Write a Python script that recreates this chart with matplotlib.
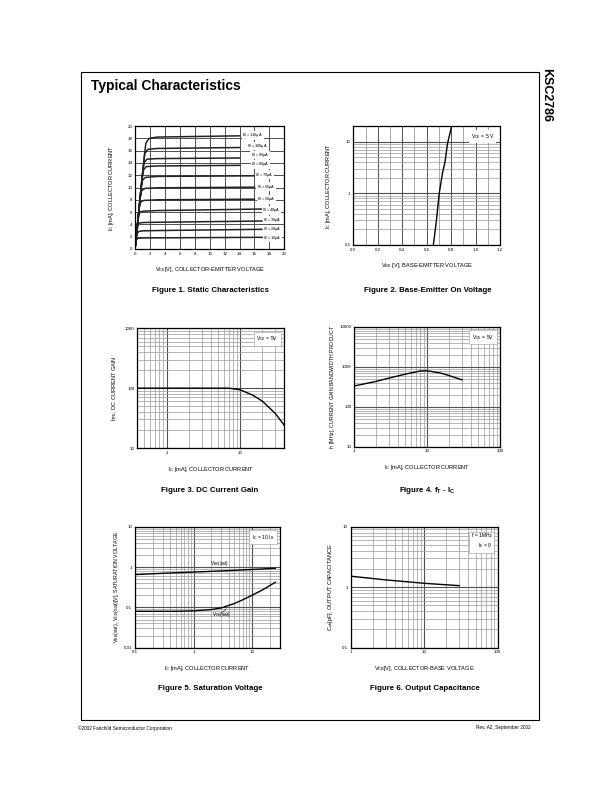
import numpy as np
import matplotlib
matplotlib.use("Agg")
import matplotlib.pyplot as plt
from matplotlib.patches import Rectangle
from matplotlib.ticker import FixedLocator, NullFormatter, FixedFormatter

plt.rcParams["font.family"] = ["Liberation Sans", "DejaVu Sans"]
plt.rcParams["mathtext.default"] = "regular"

W, H = 612, 792

# ---- Figure 1: static characteristics (Ib in uA -> (Vce, Ic)) ----
IB = [10, 20, 30, 40, 50, 60, 70, 80, 90, 100, 110]
F1_V = {
    10: [0, 0.1, 0.2, 0.4, 1.0, 17.0],
    20: [0, 0.15, 0.3, 0.5, 1.0, 3, 17],
    30: [0, 0.2, 0.4, 0.6, 1.0, 3, 17],
    40: [0, 0.3, 0.5, 0.7, 1.1, 3, 17],
    50: [0, 0.35, 0.6, 0.8, 1.2, 3, 16],
    60: [0, 0.4, 0.7, 0.9, 1.3, 3, 16],
    70: [0, 0.5, 0.8, 1.0, 1.4, 3, 16],
    80: [0, 0.55, 0.9, 1.1, 1.5, 3, 14],
    90: [0, 0.6, 1.0, 1.2, 1.6, 3, 14],
    100: [0, 0.65, 1.1, 1.3, 1.7, 3, 14],
    110: [0, 0.7, 1.2, 1.45, 1.9, 3, 14],
}
F1_I = {
    10: [0, 1.0, 1.5, 1.75, 1.8, 1.9],
    20: [0, 1.6, 2.5, 2.85, 2.95, 3.0, 3.2],
    30: [0, 2.4, 3.9, 4.2, 4.3, 4.35, 4.55],
    40: [0, 3.4, 5.5, 6.0, 6.15, 6.25, 6.5],
    50: [0, 4.2, 7.0, 7.7, 7.9, 8.0, 8.1],
    60: [0, 4.8, 8.5, 9.5, 9.85, 9.95, 10.05],
    70: [0, 6.0, 9.8, 11.2, 11.65, 11.8, 11.9],
    80: [0, 6.6, 10.9, 12.8, 13.4, 13.5, 13.6],
    90: [0, 7.2, 12.1, 14.0, 14.6, 14.7, 14.8],
    100: [0, 7.8, 13.3, 15.5, 16.2, 16.35, 16.5],
    110: [0, 8.4, 14.5, 17.2, 18.0, 18.2, 18.4],
}
F1_LABEL_XY = {
    10: (17.2, 1.85), 20: (17.2, 3.25), 30: (17.2, 4.7), 40: (17.0, 6.3),
    50: (16.4, 8.1), 60: (16.3, 10.1), 70: (16.1, 12.1), 80: (15.6, 13.8),
    90: (15.5, 15.3), 100: (15.0, 16.75), 110: (14.4, 18.5),
}

# ---- Figure 2: base-emitter on voltage ----
F2_VBE = [0.655, 0.68, 0.703, 0.73, 0.75, 0.77, 0.805]
F2_IC = [0.1, 0.3, 1.0, 2.5, 4.0, 9.0, 20.0]

# ---- Figure 3: DC current gain ----
F3_IC = [0.4, 1, 3, 7, 10, 15, 20, 30, 40]
F3_HFE = [100, 100, 100, 100, 94, 76, 61, 38, 24]

# ---- Figure 4: fT - Ic ----
F4_IC = [1, 2, 3, 5, 8, 10, 15, 20, 30]
F4_FT = [330, 430, 520, 650, 780, 790, 700, 600, 470]

# ---- Figure 5: saturation voltage ----
F5_IC_BE = [0.1, 0.3, 1, 3, 10, 25]
F5_VBE = [0.65, 0.7, 0.75, 0.8, 0.87, 0.93]
F5_IC_CE = [0.1, 0.5, 1, 2, 3, 5, 7, 10, 15, 25]
F5_VCE = [0.08, 0.08, 0.082, 0.088, 0.097, 0.125, 0.155, 0.2, 0.27, 0.42]

# ---- Figure 6: output capacitance ----
F6_VCB = [1, 3, 10, 30]
F6_COB = [1.52, 1.32, 1.16, 1.06]

MAJ = "#505050"
MIN = "#9a9a9a"
TICK_FS = 3.2
LAB_FS = 4.1
CAP_FS = 5.7


def axes_px(fig, left, top, right, bottom):
    return fig.add_axes([left / W, 1 - bottom / H, (right - left) / W, (bottom - top) / H])


def style(ax):
    for s in ax.spines.values():
        s.set_linewidth(0.9)
        s.set_color("black")
    ax.tick_params(which="both", length=0, labelsize=TICK_FS, pad=2)
    ax.set_axisbelow(True)


def log_grid(ax, axis, lo, hi, labels):
    decs = np.arange(np.floor(np.log10(lo)), np.ceil(np.log10(hi)) + 1)
    major = [10 ** d for d in decs if lo <= 10 ** d <= hi]
    minor = [m * 10 ** d for d in decs for m in range(2, 10) if lo < m * 10 ** d < hi]
    a = ax.xaxis if axis == "x" else ax.yaxis
    a.set_major_locator(FixedLocator(major))
    a.set_major_formatter(FixedFormatter(labels))
    a.set_minor_locator(FixedLocator(minor))
    a.set_minor_formatter(NullFormatter())
    ax.grid(True, axis=axis, which="major", color=MAJ, lw=0.8)
    ax.grid(True, axis=axis, which="minor", color=MIN, lw=0.5)


def note(ax, txt):
    ax.text(0.96, 0.95, txt, transform=ax.transAxes, ha="right", va="top",
            fontsize=3.6, linespacing=1.6,
            bbox=dict(boxstyle="square,pad=0.5", fc="white", ec="#999999", lw=0.4))


def caption(x, y, txt):
    fig.text(x / W, 1 - y / H, txt, ha="center", va="center", fontsize=CAP_FS,
             fontweight="bold")


fig = plt.figure(figsize=(W / 100, H / 100), dpi=100)

# page frame and header
fig.add_artist(Rectangle((81 / W, 1 - 720 / H), (539 - 81) / W, (720 - 72) / H,
                         transform=fig.transFigure, fill=False, lw=0.8, ec="black"))
fig.text(91 / W, 1 - 86 / H, "Typical Characteristics", fontsize=9.9,
         fontweight="bold", va="center", ha="left")
fig.text(546 / W, 1 - 68 / H, "KSC2786", fontsize=9, fontweight="bold",
         rotation=-90, va="top", ha="center")
fig.text(78 / W, 1 - 728 / H, "\u00a92002 Fairchild Semiconductor Corporation",
         fontsize=3.4, va="center", ha="left")
fig.text(531 / W, 1 - 728 / H, "Rev. A2, September 2002", fontsize=3.4,
         va="center", ha="right")

# Figure 1
ax = axes_px(fig, 135, 126, 284.3, 249)
style(ax)
for ib in IB:
    ax.plot(F1_V[ib], F1_I[ib], color="#222222", lw=1.1)
    lx, ly = F1_LABEL_XY[ib]
    ax.text(lx, ly, f"I$_B$ = {ib}\u00b5A", fontsize=2.8, va="center", ha="left",
            bbox=dict(boxstyle="square,pad=0.1", fc="white", ec="none"))
ax.set_xlim(0, 20)
ax.set_ylim(0, 20)
ax.set_xticks(np.arange(0, 21, 2))
ax.set_yticks(np.arange(0, 21, 2))
ax.grid(True, color=MAJ, lw=0.7)
ax.set_xlabel("V$_{CE}$[V], COLLECTOR-EMITTER VOLTAGE", fontsize=LAB_FS, labelpad=7)
ax.set_ylabel("I$_C$ [mA], COLLECTOR CURRENT", fontsize=LAB_FS, labelpad=8)
caption(210, 290, "Figure 1. Static Characteristics")

# Figure 2
ax = axes_px(fig, 353.3, 126, 500, 245)
style(ax)
ax.plot(F2_VBE, F2_IC, color="black", lw=1.0)
ax.set_yscale("log")
ax.set_xlim(0, 1.2)
ax.set_ylim(0.1, 20)
ax.set_xticks(np.arange(0, 1.21, 0.2))
ax.set_xticklabels([f"{v:.1f}" for v in np.arange(0, 1.21, 0.2)])
ax.xaxis.set_minor_locator(FixedLocator(np.arange(0.1, 1.2, 0.2)))
ax.grid(True, axis="x", which="major", color=MAJ, lw=0.7)
ax.grid(True, axis="x", which="minor", color=MIN, lw=0.6)
log_grid(ax, "y", 0.1, 20, ["0.1", "1", "10"])
ax.text(0.96, 0.95, "V$_{CE}$ = 5 V", transform=ax.transAxes, ha="right", va="top",
        fontsize=3.6, bbox=dict(boxstyle="square,pad=0.4", fc="white", ec="none"))
ax.set_xlabel("V$_{BE}$ [V], BASE-EMITTER VOLTAGE", fontsize=LAB_FS, labelpad=7)
ax.set_ylabel("I$_C$ [mA], COLLECTOR CURRENT", fontsize=LAB_FS, labelpad=8)
caption(428, 290, "Figure 2. Base-Emitter On Voltage")

# Figure 3
ax = axes_px(fig, 137.3, 328.3, 284.3, 448)
style(ax)
ax.plot(F3_IC, F3_HFE, color="black", lw=1.0)
ax.set_xscale("log")
ax.set_yscale("log")
ax.set_xlim(0.4, 40)
ax.set_ylim(10, 1000)
log_grid(ax, "x", 0.4, 40, ["1", "10"])
log_grid(ax, "y", 10, 1000, ["10", "100", "1000"])
note(ax, "V$_{CE}$ = 5V")
ax.set_xlabel("I$_C$ [mA], COLLECTOR CURRENT", fontsize=LAB_FS, labelpad=7)
ax.set_ylabel("h$_{FE}$, DC CURRENT GAIN", fontsize=LAB_FS, labelpad=4)
caption(210, 490, "Figure 3. DC Current Gain")

# Figure 4
ax = axes_px(fig, 354.3, 326.7, 500, 446.7)
style(ax)
ax.plot(F4_IC, F4_FT, color="black", lw=1.0)
ax.set_xscale("log")
ax.set_yscale("log")
ax.set_xlim(1, 100)
ax.set_ylim(10, 10000)
log_grid(ax, "x", 1, 100, ["1", "10", "100"])
log_grid(ax, "y", 10, 10000, ["10", "100", "1000", "10000"])
note(ax, "V$_{CE}$ = 5V")
ax.set_xlabel("I$_C$ [mA], COLLECTOR CURRENT", fontsize=LAB_FS, labelpad=7)
ax.set_ylabel("f$_T$ [MHz], CURRENT GAIN BANDWIDTH PRODUCT", fontsize=3.8, labelpad=2)
caption(427, 490, "Figure 4. f$_T$ - I$_C$")

# Figure 5
ax = axes_px(fig, 135, 526.7, 280, 647.7)
style(ax)
ax.plot(F5_IC_BE, F5_VBE, color="black", lw=1.0)
ax.plot(F5_IC_CE, F5_VCE, color="black", lw=1.0)
ax.set_xscale("log")
ax.set_yscale("log")
ax.set_xlim(0.1, 30)
ax.set_ylim(0.01, 10)
log_grid(ax, "x", 0.1, 30, ["0.1", "1", "10"])
log_grid(ax, "y", 0.01, 10, ["0.01", "0.1", "1", "10"])
note(ax, "I$_C$ = 10 I$_B$")
ax.text(1.9, 1.2, "V$_{BE}$(sat)", fontsize=3.4, ha="left", va="center")
ax.text(2.1, 0.066, "V$_{CE}$(sat)", fontsize=3.4, ha="left", va="center")
ax.plot([3.0, 3.6], [0.072, 0.092], color="black", lw=0.4)
ax.set_xlabel("I$_C$ [mA], COLLECTOR CURRENT", fontsize=LAB_FS, labelpad=7)
ax.set_ylabel("V$_{BE}$(sat), V$_{CE}$(sat)[V], SATURATION VOLTAGE", fontsize=3.8,
              labelpad=2)
caption(210, 689, "Figure 5. Saturation Voltage")

# Figure 6
ax = axes_px(fig, 350.7, 526.7, 497.7, 647.7)
style(ax)
ax.plot(F6_VCB, F6_COB, color="black", lw=1.0)
ax.set_xscale("log")
ax.set_yscale("log")
ax.set_xlim(1, 100)
ax.set_ylim(0.1, 10)
log_grid(ax, "x", 1, 100, ["1", "10", "100"])
log_grid(ax, "y", 0.1, 10, ["0.1", "1", "10"])
note(ax, "f = 1MHz\nI$_E$ = 0")
ax.set_xlabel("V$_{CB}$[V], COLLECTOR-BASE VOLTAGE", fontsize=LAB_FS, labelpad=7)
ax.set_ylabel("C$_{ob}$[pF], OUTPUT CAPACITANCE", fontsize=LAB_FS, labelpad=5)
caption(425, 689, "Figure 6. Output Capacitance")

fig.savefig("out.png", dpi=100)
